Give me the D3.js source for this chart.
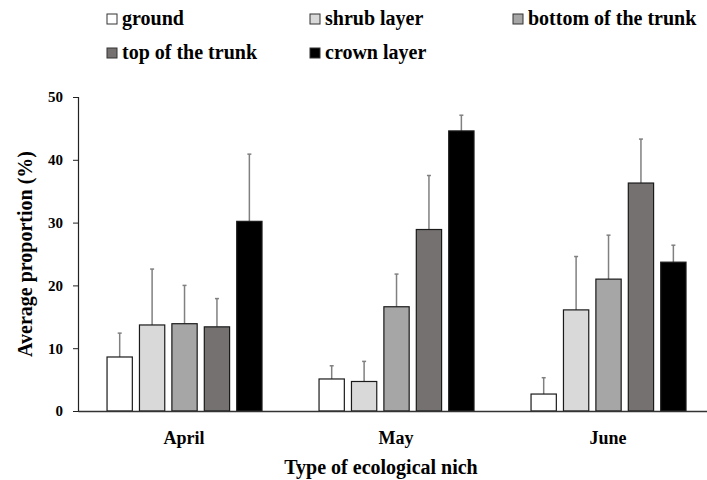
<!DOCTYPE html>
<html>
<head>
<meta charset="utf-8">
<script src="https://cdn.jsdelivr.net/npm/d3@7"></script>
<style>
	body { margin: 0; background: #fff; }
	text { font-family: "Liberation Serif", "Times New Roman", serif; font-weight: bold; }
</style>
</head>
<body>
<div id="chart"></div>
<script>
	//Data
	var months = ["April", "May", "June"];
	var series = ["ground", "shrub layer", "bottom of the trunk", "top of the trunk", "crown layer"];
	var colors = ["#ffffff", "#d9d9d9", "#a6a6a6", "#767171", "#000000"];
	//one array per series, values for April, May, June
	var ground = [8.6, 5.1, 2.7];
	var shrub = [13.7, 4.7, 16.1];
	var bottomTrunk = [13.9, 16.6, 21.0];
	var topTrunk = [13.4, 28.9, 36.3];
	var crown = [30.2, 44.6, 23.7];
	//top of the error bars
	var groundErr = [12.4, 7.2, 5.3];
	var shrubErr = [22.6, 7.9, 24.6];
	var bottomTrunkErr = [20.0, 21.8, 28.0];
	var topTrunkErr = [17.9, 37.5, 43.3];
	var crownErr = [40.9, 47.1, 26.4];
	var yTicks = [0, 10, 20, 30, 40, 50];

	var values = [ground, shrub, bottomTrunk, topTrunk, crown];
	var errors = [groundErr, shrubErr, bottomTrunkErr, topTrunkErr, crownErr];

	var w = 707;
	var h = 480;
	var plotLeft = 78, plotTop = 97, plotBottom = 411;

	var rows = [];
	months.forEach(function (m, i) {
		series.forEach(function (s, j) {
			rows.push({ month: m, series: s, idx: j, value: values[j][i], err: errors[j][i] });
		});
	});

	var x0 = d3.scaleBand().domain(months).range([plotLeft, 714]);
	var bw = x0.bandwidth();
	var x1 = d3.scaleBand().domain(series).range([bw * 0.137, bw * 0.868]).paddingInner(0.22);
	var yScale = d3.scaleLinear().domain([0, 50]).range([plotBottom, plotTop]);

	var svg = d3.select("#chart").append("svg")
		.attr("width", w)
		.attr("height", h);

	//Error bars first so the bar sits on top of the stem
	var eb = svg.append("g").selectAll("g")
		.data(rows)
		.enter()
		.append("g")
		.attr("stroke", "#808080")
		.attr("stroke-width", 1.5);
	eb.append("line")
		.attr("x1", function (d) { return x0(d.month) + x1(d.series) + x1.bandwidth() / 2; })
		.attr("x2", function (d) { return x0(d.month) + x1(d.series) + x1.bandwidth() / 2; })
		.attr("y1", function (d) { return yScale(d.value); })
		.attr("y2", function (d) { return yScale(d.err); });
	eb.append("line")
		.attr("x1", function (d) { return x0(d.month) + x1(d.series) + x1.bandwidth() / 2 - 2; })
		.attr("x2", function (d) { return x0(d.month) + x1(d.series) + x1.bandwidth() / 2 + 2; })
		.attr("y1", function (d) { return yScale(d.err); })
		.attr("y2", function (d) { return yScale(d.err); });

	//Bars
	svg.append("g").selectAll("rect")
		.data(rows)
		.enter()
		.append("rect")
		.attr("x", function (d) { return x0(d.month) + x1(d.series); })
		.attr("y", function (d) { return yScale(d.value); })
		.attr("width", x1.bandwidth())
		.attr("height", function (d) { return yScale(0) - yScale(d.value); })
		.attr("fill", function (d) { return colors[d.idx]; })
		.attr("stroke", "#1a1a1a")
		.attr("stroke-width", 1.2);

	//Y axis
	var yAxis = svg.append("g")
		.attr("transform", "translate(" + plotLeft + ",0)")
		.call(d3.axisLeft(yScale).tickValues(yTicks).tickSize(5).tickPadding(10));
	yAxis.select(".domain").attr("stroke", "#222").attr("stroke-width", 1.2);
	yAxis.selectAll(".tick line").attr("stroke", "#222");
	yAxis.selectAll("text")
		.attr("font-size", "15px")
		.attr("font-family", "Liberation Serif")
		.attr("fill", "#000");

	//X axis line and month labels
	var xAxis = svg.append("g")
		.attr("transform", "translate(0," + plotBottom + ")")
		.call(d3.axisBottom(x0).tickSize(0).tickPadding(20));
	xAxis.select(".domain").attr("stroke", "#333").attr("stroke-width", 1.5);
	xAxis.selectAll("text")
		.attr("font-size", "18px")
		.attr("font-family", "Liberation Serif")
		.attr("fill", "#000");

	//Axis titles
	svg.append("text")
		.attr("text-anchor", "middle")
		.attr("x", 381)
		.attr("y", 474)
		.attr("font-size", "20px")
		.text("Type of ecological nich");

	svg.append("text")
		.attr("text-anchor", "middle")
		.attr("transform", "translate(32," + ((plotTop + plotBottom) / 2) + ")rotate(-90)")
		.attr("font-size", "20px")
		.text("Average proportion (%)");

	//Legend, two rows
	var legX = [107, 310, 513];
	var legY = [25, 59];
	var leg = svg.append("g").selectAll("g")
		.data(series)
		.enter()
		.append("g")
		.attr("transform", function (d, i) {
			return "translate(" + legX[i % 3] + "," + legY[Math.floor(i / 3)] + ")";
		});
	leg.append("rect")
		.attr("x", 0)
		.attr("y", -11)
		.attr("width", 10)
		.attr("height", 10)
		.attr("fill", function (d, i) { return colors[i]; })
		.attr("stroke", "#333")
		.attr("stroke-width", 1);
	leg.append("text")
		.attr("x", 15)
		.attr("y", 0)
		.attr("font-size", "20px")
		.text(function (d) { return d; });
</script>
</body>
</html>
